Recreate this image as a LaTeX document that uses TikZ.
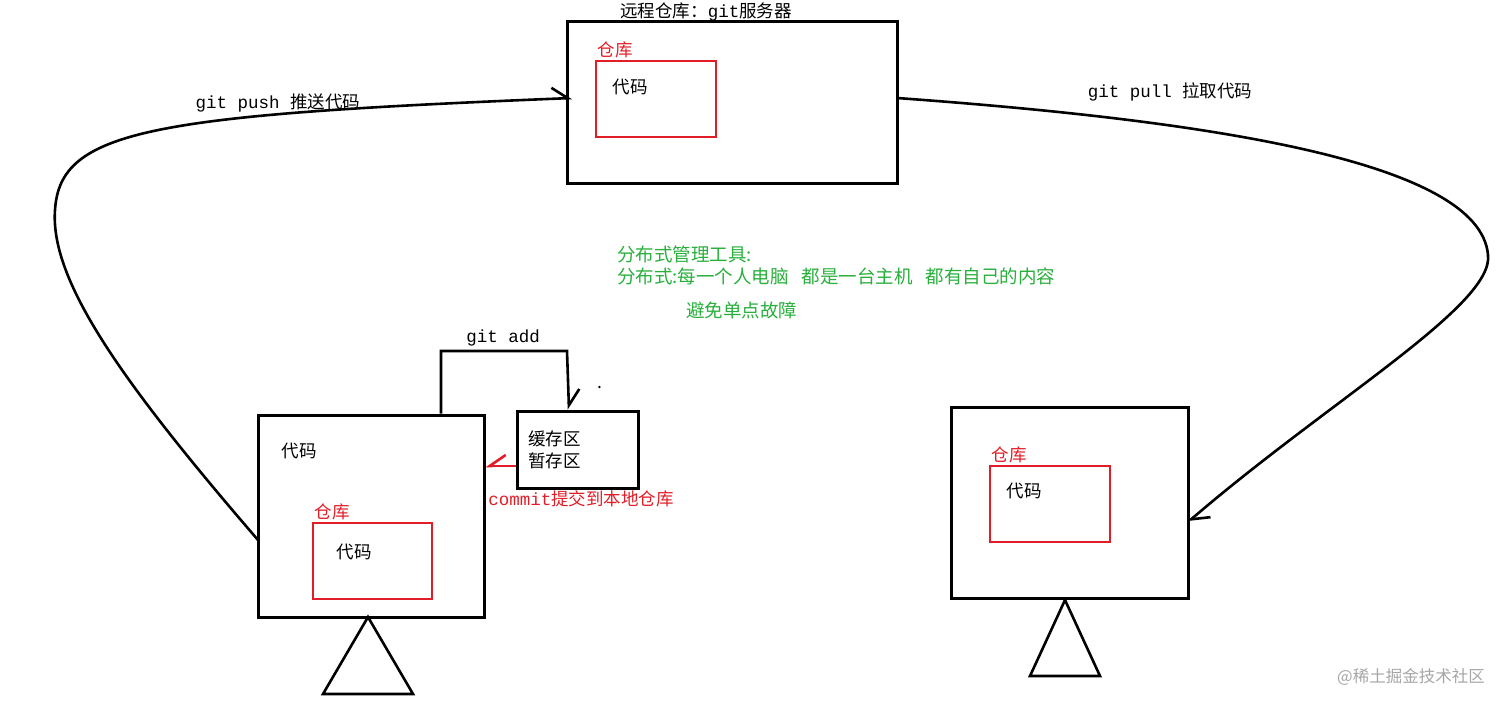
\documentclass[tikz,border=0pt]{standalone}
\usepackage{fontspec}
\setmainfont{Noto Sans CJK SC}
\setmonofont{Liberation Mono}
\usetikzlibrary{arrows.meta,positioning}
\definecolor{gitred}{RGB}{225,30,40}
\definecolor{gitgreen}{RGB}{40,175,60}
\newcommand{\cmd}[1]{{\ttfamily #1}}

\begin{document}
\begin{tikzpicture}[x=1pt,y=-1pt,font=\fontsize{17.5}{21}\selectfont,
  box/.style={draw,line width=3pt,inner sep=0pt},
  repobox/.style={draw=gitred,line width=2.6pt,inner sep=0pt,minimum width=120,minimum height=76},
  txt/.style={inner sep=0pt},
  redtxt/.style={txt,text=gitred},
  greentxt/.style={txt,text=gitgreen,anchor=west,font=\fontsize{18.5}{22}\selectfont},
  flow/.style={line width=2.6pt,-{Straight Barb[harpoon,length=16pt,width=22pt]}},
  flowswap/.style={line width=2.6pt,-{Straight Barb[harpoon,swap,length=16pt,width=22pt]}}]
\useasboundingbox (0,0) rectangle (1512,707);
% remote server
\node[box,minimum width=330,minimum height=162] (server) at (732,102) {};
\node[txt] (servertitle) at (706,12) {远程仓库：\cmd{git}服务器};
\node[repobox] (serverrepo) at (656,99) {};
\node[redtxt] (serverrepolbl) at (615,50) {仓库};
\node[txt] (servercode) at (630,87) {代码};
% local machine (left)
\node[box,minimum width=226,minimum height=202] (local) at (371,516) {};
\node[txt] (localcode) at (299,451) {代码};
\node[repobox,minimum width=119] (localrepo) at (372.5,561) {};
\node[redtxt] (localrepolbl) at (332,512) {仓库};
\node[txt] (localrepocode) at (354,552) {代码};
\draw[line width=2.6pt] (368,617) -- (323,694) -- (413,694) -- cycle;
% staging area
\node[box,minimum width=121,minimum height=77] (stage) at (577.5,449.5) {};
\node[txt,align=left,anchor=west] (stagetxt) at (528,450) {缓存区\\[1pt]暂存区};
\node[txt] (dot) at (600,388) {.};
% other machine (right)
\node[box,minimum width=237,minimum height=191] (other) at (1069.5,502.5) {};
\node[repobox] (otherrepo) at (1050,504) {};
\node[redtxt] (otherrepolbl) at (1009,455) {仓库};
\node[txt] (othercode) at (1024,491) {代码};
\draw[line width=2.6pt] (1065,600) -- (1030,676) -- (1100,676) -- cycle;
% connector ends
\coordinate (pushstart) at (258,540);
\coordinate (pushend) at (572,98);
\coordinate (pullstart) at (897,98);
\coordinate (pullend) at (1188,522);
% git push
\draw[flow] (pushstart) .. controls (120,380) and (50,280) .. (55,210)
  .. controls (60,130) and (150,115) .. (pushend);
\node[txt] (pushlbl) at (278,103) {\cmd{git push }推送代码};
% git pull
\draw[flow] (pullstart) .. controls (1200,120) and (1480,160) .. (1488,255)
  .. controls (1494,305) and (1330,400) .. (pullend);
\node[txt] (pulllbl) at (1170,92) {\cmd{git pull }拉取代码};
% git add
\draw[flow] (local.north -| 441,0) |- (567,351) -- (stage.north -| 569,0);
\node[txt] (addlbl) at (503,338) {\cmd{git add}};
% commit
\draw[flowswap,gitred] (stage.west |- 0,466) -- (local.east |- 0,466);
\node[redtxt] (commitlbl) at (581,499) {\cmd{commit}提交到本地仓库};
% notes
\node[greentxt] (note1) at (617,254) {分布式管理工具:};
\node[greentxt] (note2) at (617,276) {分布式:每一个人电脑\hspace{0.7em}都是一台主机\hspace{0.7em}都有自己的内容};
\node[greentxt] (note3) at (686,310) {避免单点故障};
\node[txt,text=black!35,font=\fontsize{16.5}{20}\selectfont] (mark) at (1411,677) {@稀土掘金技术社区};
\end{tikzpicture}
\end{document}
